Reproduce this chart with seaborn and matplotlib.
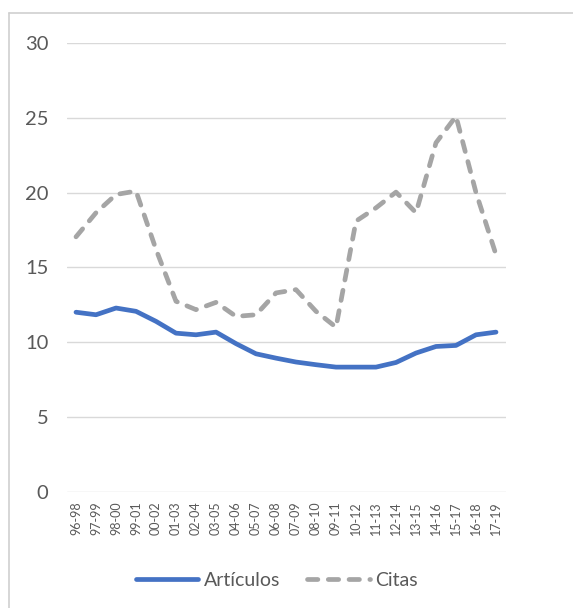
import matplotlib
matplotlib.use("Agg")
import matplotlib.pyplot as plt
from matplotlib.lines import Line2D
import seaborn as sns
import pandas as pd

periods = ["96-98", "97-99", "98-00", "99-01", "00-02", "01-03", "02-04", "03-05",
           "04-06", "05-07", "06-08", "07-09", "08-10", "09-11", "10-12", "11-13",
           "12-14", "13-15", "14-16", "15-17", "16-18", "17-19"]
articulos = [12.0, 11.83, 12.28, 12.06, 11.39, 10.6, 10.49, 10.67, 9.9, 9.22, 8.93,
             8.67, 8.49, 8.33, 8.33, 8.33, 8.64, 9.27, 9.71, 9.78, 10.49, 10.67]
citas = [17.04, 18.65, 19.87, 20.1, 16.2, 12.73, 12.17, 12.66, 11.72, 11.83, 13.29,
         13.51, 12.06, 11.0, 18.09, 18.98, 20.03, 18.65, 23.33, 25.1, 20.0, 15.85]
series_names = ["Artículos", "Citas"]
y_ticks = [0, 5, 10, 15, 20, 25, 30]

BLUE = "#4472C4"
GRAY = "#A5A5A5"
TEXT = "#595959"
GRID = "#D9D9D9"
LW = 3.4

sns.set_theme(style="white")
plt.rcParams["font.family"] = ["Lato", "DejaVu Sans"]

df = pd.DataFrame({"periodo": periods * 2,
                   "valor": articulos + citas,
                   "serie": [series_names[0]] * len(periods) + [series_names[1]] * len(periods)})

fig = plt.figure(figsize=(5.73, 6.08), dpi=100)
ax = fig.add_axes([67 / 573, 1 - 491.7 / 608, (506 - 67) / 573, (491.7 - 43) / 608])

sns.lineplot(data=df[df.serie == series_names[0]], x="periodo", y="valor", ax=ax,
             color=BLUE, linewidth=LW, solid_capstyle="round", solid_joinstyle="round",
             sort=False, label=series_names[0], legend=False)
sns.lineplot(data=df[df.serie == series_names[1]], x="periodo", y="valor", ax=ax,
             color=GRAY, linewidth=LW, sort=False, label=series_names[1], legend=False)
gray_line = ax.get_lines()[1]
gray_line.set_dashes((2.2, 2.2))
gray_line.set_dash_capstyle("round")
gray_line.set_dash_joinstyle("round")

ax.set_xlim(-0.45, 21.5)
ax.set_ylim(0, 30)
ax.set_yticks(y_ticks)
ax.set_xticks(range(len(periods)))
ax.set_xticklabels(periods, rotation=90)
ax.yaxis.grid(True, color=GRID, linewidth=1.0)
ax.set_axisbelow(True)
for s in ax.spines.values():
    s.set_visible(False)
ax.set_xlabel("")
ax.set_ylabel("")
ax.tick_params(axis="y", length=0, pad=13.5, labelsize=14.5, labelcolor=TEXT)
ax.tick_params(axis="x", length=0, pad=7, labelsize=9, labelcolor=TEXT)

handles = [Line2D([], [], color=BLUE, linewidth=LW, solid_capstyle="round"),
           Line2D([], [], color=GRAY, linewidth=LW, dashes=(2.2, 2.2),
                  dash_capstyle="round")]
fig.legend(handles, series_names, loc="center", bbox_to_anchor=(277 / 573, 1 - 580 / 608),
           ncol=2, frameon=False, fontsize=14, handlelength=3.2, handletextpad=0.3,
           columnspacing=1.4, labelcolor=TEXT)

# chart frame (left and top edges)
fig.add_artist(Line2D([9 / 573, 9 / 573], [0, 1 - 13 / 608], color="#CFCFCF", linewidth=1.2,
                      transform=fig.transFigure))
fig.add_artist(Line2D([9 / 573, 1], [1 - 13 / 608, 1 - 13 / 608], color="#CFCFCF",
                      linewidth=1.2, transform=fig.transFigure))

fig.savefig("out.png", dpi=100, facecolor="white")
